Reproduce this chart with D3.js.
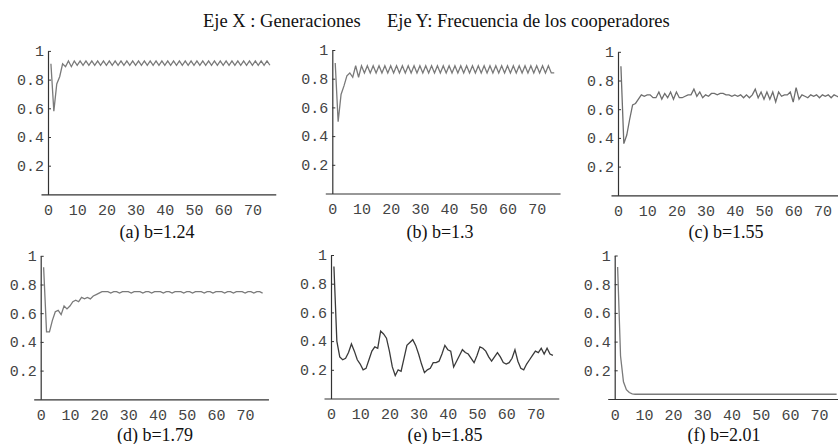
<!DOCTYPE html>
<html>
<head>
<meta charset="utf-8">
<script src="https://cdn.jsdelivr.net/npm/d3@7"></script>
<style>
  html, body { margin: 0; padding: 0; background: #fff; }
  svg { display: block; }
  .tick text { font-family: "Liberation Mono", monospace; font-size: 15px; fill: #444; }
  .caption { font-family: "Liberation Serif", "Times New Roman", serif; fill: #111; }
</style>
</head>
<body>
<div id="main"></div>
<script>
const width = 838;
const height = 444;

const xTicks = [0, 10, 20, 30, 40, 50, 60, 70];
const yTicks = [0.2, 0.4, 0.6, 0.8, 1];
const yTickLabels = ['0.2', '0.4', '0.6', '0.8', '1'];

const titleX = 'Eje X : Generaciones';
const titleY = 'Eje Y: Frecuencia de los cooperadores';

const captions = ['(a) b=1.24', '(b) b=1.3', '(c) b=1.55', '(d) b=1.79', '(e) b=1.85', '(f) b=2.01'];

// frecuencia de cooperadores, generaciones 1..76
const serieA = [0.91, 0.58, 0.77, 0.82, 0.91, 0.89, 0.93, 0.89, 0.93, 0.90,
  0.93, 0.90, 0.93, 0.90, 0.93, 0.90, 0.93, 0.90, 0.93, 0.90,
  0.93, 0.90, 0.93, 0.90, 0.93, 0.90, 0.93, 0.90, 0.93, 0.90,
  0.93, 0.90, 0.93, 0.90, 0.93, 0.90, 0.93, 0.90, 0.93, 0.90,
  0.93, 0.90, 0.93, 0.90, 0.93, 0.90, 0.93, 0.90, 0.93, 0.90,
  0.93, 0.90, 0.93, 0.90, 0.93, 0.90, 0.93, 0.90, 0.93, 0.90,
  0.93, 0.90, 0.93, 0.90, 0.93, 0.90, 0.93, 0.90, 0.93, 0.90,
  0.93, 0.90, 0.93, 0.90, 0.93, 0.90];

const serieB = [0.91, 0.50, 0.69, 0.75, 0.82, 0.84, 0.81, 0.89, 0.81, 0.89,
  0.84, 0.89, 0.84, 0.89, 0.84, 0.89, 0.84, 0.89, 0.84, 0.89,
  0.84, 0.89, 0.84, 0.89, 0.84, 0.89, 0.84, 0.89, 0.84, 0.89,
  0.84, 0.89, 0.84, 0.89, 0.84, 0.89, 0.84, 0.89, 0.84, 0.89,
  0.84, 0.89, 0.84, 0.89, 0.84, 0.89, 0.84, 0.89, 0.84, 0.89,
  0.84, 0.89, 0.84, 0.89, 0.84, 0.89, 0.84, 0.89, 0.84, 0.89,
  0.84, 0.89, 0.84, 0.89, 0.84, 0.89, 0.84, 0.89, 0.84, 0.89,
  0.84, 0.89, 0.84, 0.89, 0.84, 0.84];

const serieC = [0.90, 0.36, 0.42, 0.53, 0.63, 0.64, 0.67, 0.70, 0.69, 0.70,
  0.70, 0.68, 0.68, 0.72, 0.67, 0.71, 0.68, 0.72, 0.67, 0.72,
  0.68, 0.68, 0.69, 0.70, 0.70, 0.74, 0.69, 0.72, 0.68, 0.70,
  0.69, 0.71, 0.71, 0.70, 0.71, 0.71, 0.70, 0.70, 0.69, 0.70,
  0.69, 0.70, 0.68, 0.70, 0.68, 0.70, 0.74, 0.68, 0.72, 0.67,
  0.72, 0.67, 0.72, 0.65, 0.72, 0.69, 0.70, 0.70, 0.72, 0.65,
  0.75, 0.67, 0.70, 0.69, 0.68, 0.70, 0.69, 0.70, 0.68, 0.70,
  0.69, 0.70, 0.68, 0.70, 0.69, 0.68];

const serieD = [0.92, 0.47, 0.47, 0.55, 0.61, 0.62, 0.59, 0.65, 0.63, 0.65,
  0.68, 0.69, 0.68, 0.71, 0.70, 0.71, 0.70, 0.72, 0.73, 0.74,
  0.75, 0.75, 0.75, 0.74, 0.75, 0.75, 0.74, 0.75, 0.75, 0.75,
  0.74, 0.75, 0.75, 0.75, 0.74, 0.75, 0.75, 0.74, 0.75, 0.75,
  0.75, 0.74, 0.75, 0.75, 0.74, 0.75, 0.75, 0.75, 0.74, 0.75,
  0.75, 0.74, 0.75, 0.75, 0.75, 0.74, 0.75, 0.75, 0.74, 0.75,
  0.75, 0.75, 0.74, 0.75, 0.75, 0.74, 0.75, 0.75, 0.75, 0.74,
  0.75, 0.75, 0.74, 0.75, 0.75, 0.74];

const serieE = [0.92, 0.40, 0.29, 0.27, 0.28, 0.32, 0.38, 0.33, 0.27, 0.24,
  0.20, 0.21, 0.27, 0.33, 0.36, 0.35, 0.47, 0.45, 0.42, 0.33,
  0.22, 0.16, 0.20, 0.19, 0.28, 0.37, 0.39, 0.41, 0.37, 0.31,
  0.24, 0.18, 0.20, 0.21, 0.25, 0.25, 0.26, 0.31, 0.37, 0.34,
  0.33, 0.22, 0.26, 0.30, 0.34, 0.32, 0.31, 0.28, 0.25, 0.30,
  0.36, 0.35, 0.33, 0.29, 0.26, 0.29, 0.32, 0.29, 0.25, 0.24,
  0.25, 0.28, 0.34, 0.26, 0.21, 0.20, 0.24, 0.27, 0.30, 0.33,
  0.32, 0.35, 0.31, 0.35, 0.31, 0.30];

const serieF = [0.92, 0.30, 0.12, 0.065, 0.045, 0.036, 0.033, 0.033, 0.033, 0.033,
  0.033, 0.033, 0.033, 0.033, 0.033, 0.033, 0.033, 0.033, 0.033, 0.033,
  0.033, 0.033, 0.033, 0.033, 0.033, 0.033, 0.033, 0.033, 0.033, 0.033,
  0.033, 0.033, 0.033, 0.033, 0.033, 0.033, 0.033, 0.033, 0.033, 0.033,
  0.033, 0.033, 0.033, 0.033, 0.033, 0.033, 0.033, 0.033, 0.033, 0.033,
  0.033, 0.033, 0.033, 0.033, 0.033, 0.033, 0.033, 0.033, 0.033, 0.033,
  0.033, 0.033, 0.033, 0.033, 0.033, 0.033, 0.033, 0.033, 0.033, 0.033,
  0.033, 0.033, 0.033, 0.033, 0.033, 0.033];

const series = [serieA, serieB, serieC, serieD, serieE, serieF];

// origen de cada panel (eje y, eje x) y posicion del pie
const panels = [
  { ox: 48,    oy: 194.4, cx: 157, cy: 238, color: '#7a7a7a' },
  { ox: 332.3, oy: 193.5, cx: 440, cy: 238, color: '#7a7a7a' },
  { ox: 618,   oy: 195.3, cx: 726, cy: 238, color: '#6e6e6e' },
  { ox: 40.7,  oy: 399.3, cx: 155, cy: 441, color: '#7a7a7a' },
  { ox: 331,   oy: 398.5, cx: 445, cy: 441, color: '#3a3a3a' },
  { ox: 614.7, oy: 399,   cx: 724, cy: 441, color: '#7a7a7a' }
];

const svg = d3.select('#main').append('svg')
  .attr('width', width)
  .attr('height', height);

svg.append('text')
  .attr('class', 'caption')
  .attr('x', 203)
  .attr('y', 27)
  .style('font-size', '18.5px')
  .text(titleX);
svg.append('text')
  .attr('class', 'caption')
  .attr('x', 387)
  .attr('y', 27)
  .style('font-size', '18.5px')
  .text(titleY);

series.forEach((values, i) => drawPanel(values, panels[i], captions[i]));

function drawPanel(values, p, caption) {
  const x = d3.scaleLinear().domain([-2.4, 78]).range([p.ox - 2.4 * 2.92, p.ox + 78 * 2.92]);
  const y = d3.scaleLinear().domain([0, 1]).range([p.oy, p.oy - 143.5]);
  const g = svg.append('g');

  const xAxis = g.append('g')
    .attr('transform', `translate(0, ${p.oy})`)
    .call(d3.axisBottom(x).tickValues(xTicks).tickSize(0).tickPadding(10).tickSizeOuter(0));
  xAxis.select('.domain').attr('stroke', '#333').attr('stroke-width', 1.2);

  const yAxis = g.append('g')
    .attr('transform', `translate(${p.ox}, 0)`)
    .call(d3.axisLeft(y).tickValues(yTicks).tickSize(-3).tickPadding(4).tickSizeOuter(0)
      .tickFormat((d, k) => yTickLabels[k]));
  yAxis.select('.domain').attr('stroke', '#333').attr('stroke-width', 1.2);
  yAxis.selectAll('.tick line').attr('stroke', '#333');
  yAxis.selectAll('.tick text').attr('x', -4);
  g.selectAll('.tick text').attr('font-family', null).attr('font-size', null);

  const line = d3.line()
    .x((d, k) => x(k + 1))
    .y(d => y(d));
  g.append('path')
    .datum(values)
    .attr('d', line)
    .attr('fill', 'none')
    .attr('stroke', p.color)
    .attr('stroke-width', 1.3);

  g.append('text')
    .attr('class', 'caption')
    .attr('x', p.cx)
    .attr('y', p.cy)
    .attr('text-anchor', 'middle')
    .style('font-size', '18px')
    .text(caption);
}
</script>
</body>
</html>
